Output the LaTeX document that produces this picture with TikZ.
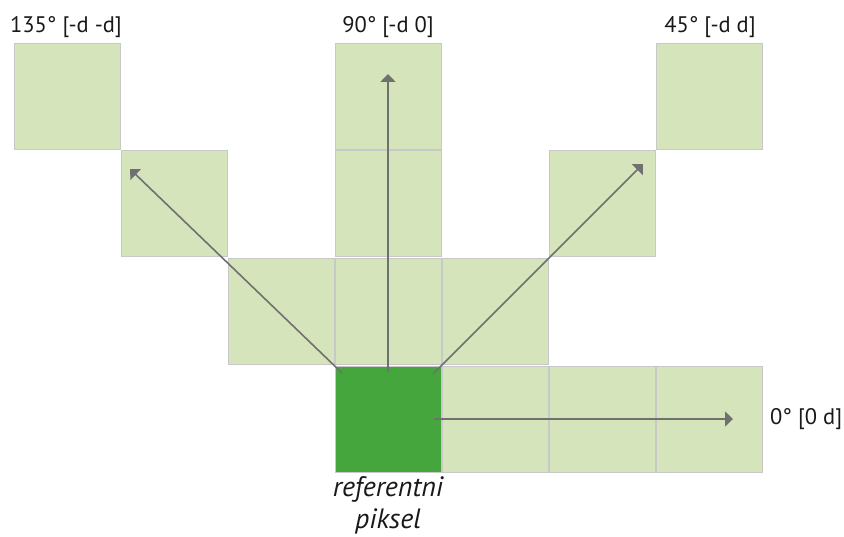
\documentclass[tikz,border=0pt]{standalone}
\usepackage{fontspec}
\setmainfont{PT Sans}
\usetikzlibrary{arrows.meta}
\definecolor{cellgreen}{HTML}{D5E4BA}
\definecolor{refgreen}{HTML}{46A63E}
\definecolor{cellborder}{HTML}{C8C8C8}
\definecolor{arrowgray}{HTML}{707070}
\tikzset{
  cell/.style={draw=cellborder, line width=0.9pt, fill=cellgreen, minimum size=106pt, inner sep=0pt, anchor=north west},
  refcell/.style={cell, fill=refgreen},
  dirarrow/.style={draw=arrowgray, line width=1.6pt, -{Triangle[length=8pt,width=15pt]}},
  lbl/.style={font=\fontsize{22.5}{26}\selectfont, text=black!90, inner sep=0pt}
}
\begin{document}
\begin{tikzpicture}[x=1pt,y=-1pt]
\useasboundingbox (0,0) rectangle (844,537);
% row 0
\node[cell] (c00) at (14,43) {};
\node[cell] (c30) at (335,43) {};
\node[cell] (c60) at (656,43) {};
% row 1
\node[cell] (c11) at (121,150) {};
\node[cell] (c31) at (335,150) {};
\node[cell] (c51) at (549,150) {};
% row 2
\node[cell] (c22) at (228,258) {};
\node[cell] (c32) at (335,258) {};
\node[cell] (c42) at (442,258) {};
% row 3
\node[refcell] (ref) at (335,366) {};
\node[cell] (c43) at (442,366) {};
\node[cell] (c53) at (549,366) {};
\node[cell] (c63) at (656,366) {};
% arrow coordinates
\coordinate (s135) at (342,373);
\coordinate (s90) at (388,372);
\coordinate (s45) at (433,374);
\coordinate (s0) at (434,419);
\coordinate (t135) at (130,169);
\coordinate (t90) at (388,74);
\coordinate (t45) at (643,164);
\coordinate (t0) at (733,419);
\draw[dirarrow] (s135) -- (t135);
\draw[dirarrow] (s90) -- (t90);
\draw[dirarrow] (s45) -- (t45);
\draw[dirarrow] (s0) -- (t0);
% labels
\node[lbl] (l135) at (66,27) {135° [-d -d]};
\node[lbl] (l90) at (388,27) {90° [-d 0]};
\node[lbl] (l45) at (710,27) {45° [-d d]};
\node[lbl, anchor=west] (l0) at (770,419) {0° [0 d]};
\node[lbl, align=center, font=\fontsize{28}{32}\selectfont\itshape] (lref) at (388,505) {referentni\\piksel};
\end{tikzpicture}
\end{document}
